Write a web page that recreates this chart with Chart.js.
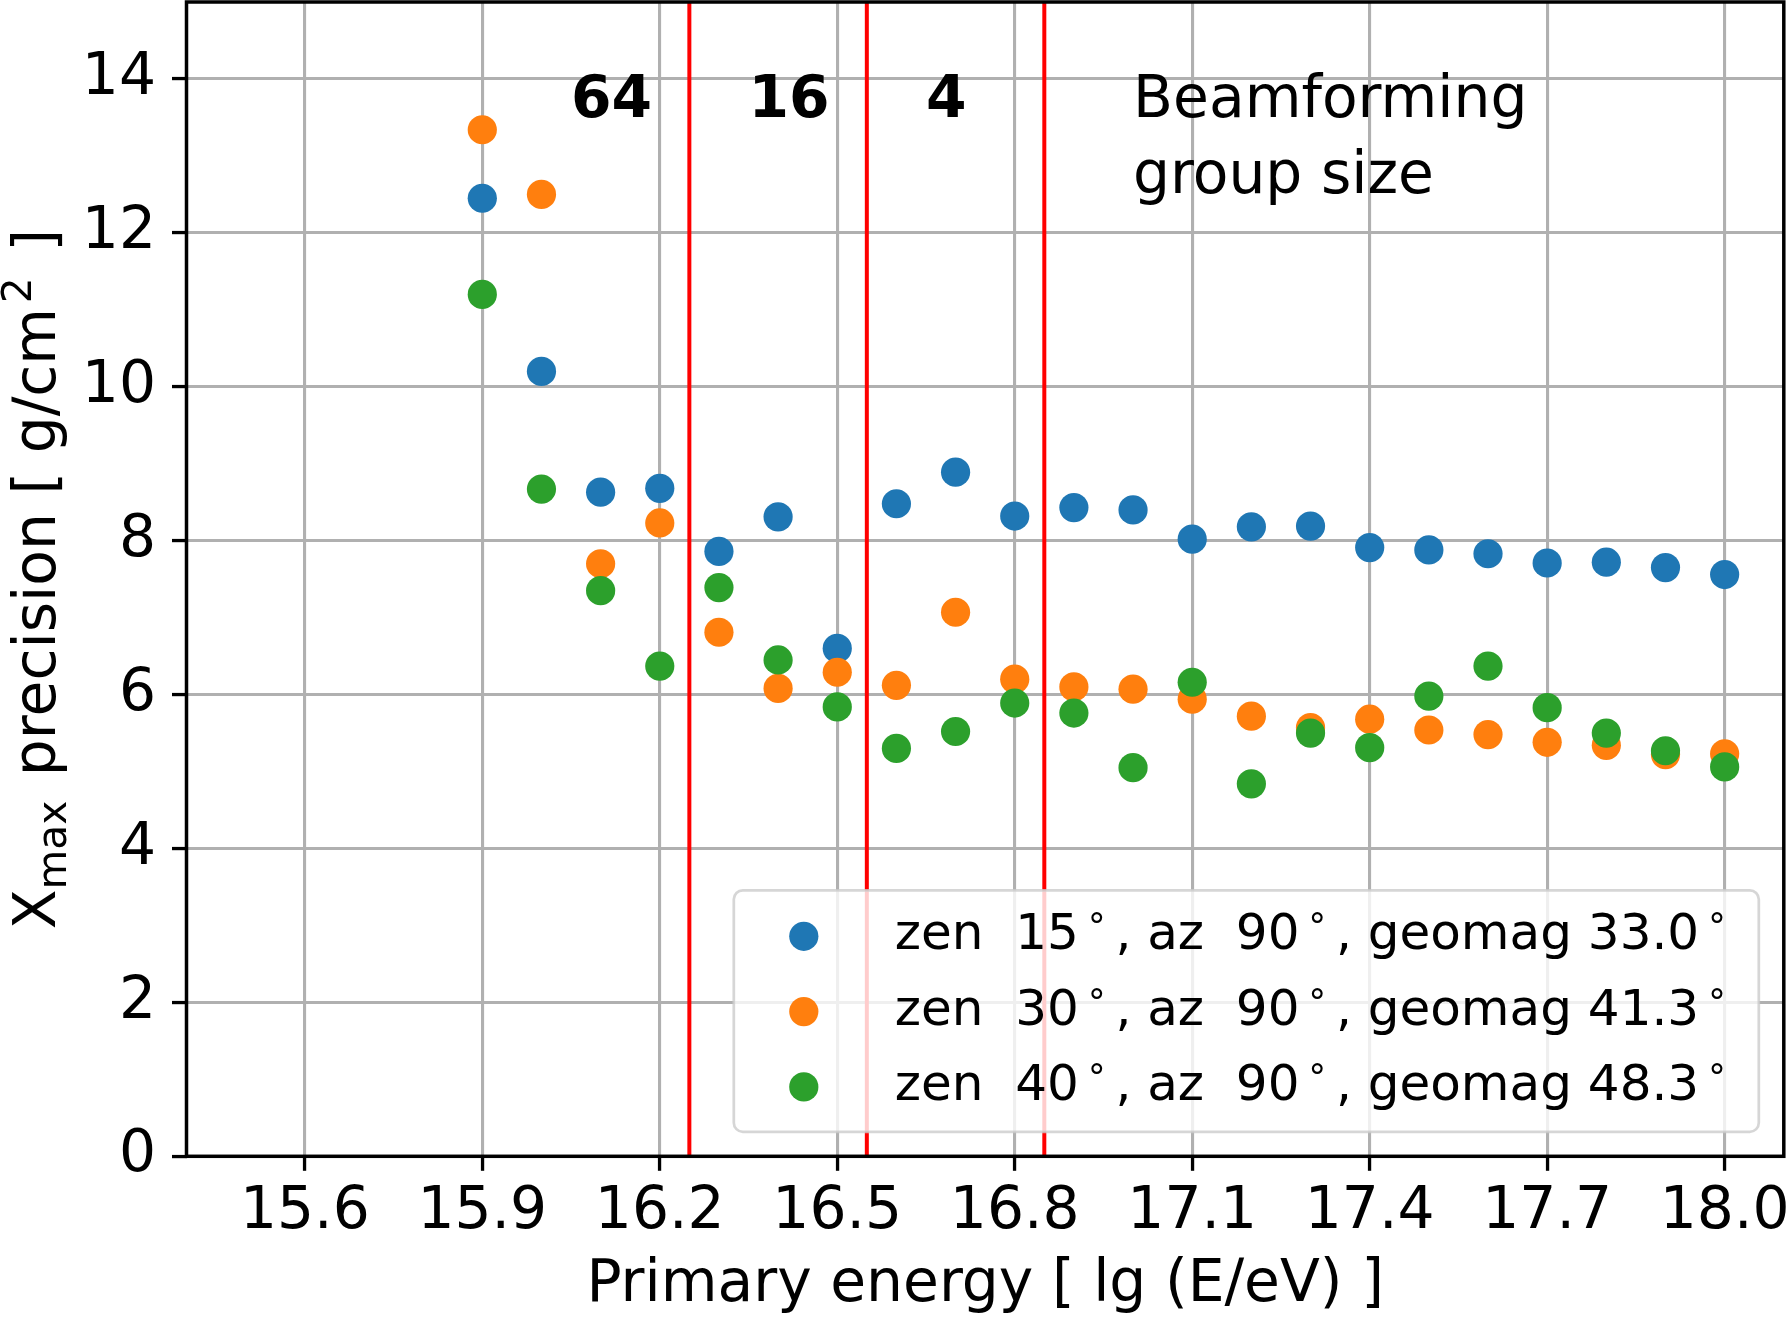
<!DOCTYPE html>
<html><head><meta charset="utf-8">
<script src="https://cdn.jsdelivr.net/npm/chart.js@4.4.1/dist/chart.umd.min.js"></script>
<style>html,body{margin:0;padding:0;background:#fff}#wrap{width:1787px;height:1317px;position:relative}</style>
</head><body><div id="wrap"><canvas id="c"></canvas></div>
<script>
// ---- data ----
const energies = [15.9,16.0,16.1,16.2,16.3,16.4,16.5,16.6,16.7,16.8,16.9,17.0,17.1,17.2,17.3,17.4,17.5,17.6,17.7,17.8,17.9,18.0];
const zen15 = [12.45,10.20,8.63,8.68,7.86,8.31,6.60,8.48,8.89,8.32,8.43,8.40,8.02,8.18,8.19,7.91,7.88,7.83,7.71,7.72,7.65,7.56];
const zen30 = [13.34,12.50,7.70,8.23,6.81,6.08,6.29,6.12,7.07,6.20,6.10,6.07,5.94,5.72,5.57,5.68,5.54,5.48,5.38,5.34,5.22,5.23];
const zen40 = [11.20,8.67,7.35,6.37,7.39,6.45,5.84,5.30,5.52,5.89,5.76,5.05,6.16,4.84,5.50,5.31,5.98,6.37,5.83,5.50,5.27,5.06];
const seriesLabels = ['zen  15°, az  90°, geomag 33.0°','zen  30°, az  90°, geomag 41.3°','zen  40°, az  90°, geomag 48.3°'];
const xTickValues = [15.6,15.9,16.2,16.5,16.8,17.1,17.4,17.7,18.0];
const yTickValues = [0,2,4,6,8,10,12,14];
const groupBoundaries = [16.25,16.55,16.85];
const groupSizes = ['64','16','4'];
const groupLabelX = [16.05,16.35,16.65];
const groupLabelY = 13.5;
const noteLines = ['Beamforming','group size'];
const noteX = 17.0;
const xTitle = 'Primary energy [ lg (E/eV) ]';

// ---- styles ----
const FONT = "'DejaVu Sans'";
const FS = 58.3;
const colors = ['#1f77b4','#ff7f0e','#2ca02c'];
const W = 1787, H = 1317;

function pts(ys){ return energies.map((x,i)=>({x:x,y:ys[i]})); }

function drawRich(ctx, parts, base, x, y, align){
  let total = 0;
  const m = parts.map(p=>{
    ctx.font = (p.w||'') + ' ' + (base*(p.s||1)) + 'px ' + FONT;
    const w = ctx.measureText(p.t).width + (p.pre||0)*base + (p.post||0)*base;
    total += w; return w;
  });
  let cx = align==='center' ? x - total/2 : x;
  parts.forEach((p,i)=>{
    ctx.font = (p.w||'') + ' ' + (base*(p.s||1)) + 'px ' + FONT;
    ctx.fillText(p.t, cx + (p.pre||0)*base, y + (p.dy||0)*base);
    cx += m[i];
  });
}

function labelParts(lbl){
  const segs = lbl.split('°');
  const parts = [];
  segs.forEach((s,i)=>{
    if (s.length) parts.push({t:s});
    if (i < segs.length-1) parts.push({t:'°', s:0.7, dy:-0.22, pre:0.18, post:0.2});
  });
  return parts;
}

const overlay = {
  id:'overlay',
  afterDraw(chart){
    const ctx = chart.ctx, ca = chart.chartArea;
    const xs = chart.scales.x, ys = chart.scales.y;
    ctx.save();
    // red group boundaries
    ctx.strokeStyle = '#ff0000'; ctx.lineWidth = 4;
    groupBoundaries.forEach(v=>{
      const px = xs.getPixelForValue(v);
      ctx.beginPath(); ctx.moveTo(px, ys.getPixelForValue(0)); ctx.lineTo(px, ys.getPixelForValue(15)); ctx.stroke();
    });
    // spines
    ctx.strokeStyle = '#000'; ctx.lineWidth = 3.5;
    ctx.strokeRect(ca.left, ca.top, ca.right-ca.left, ca.bottom-ca.top);
    // group size annotations
    ctx.fillStyle = '#000'; ctx.textBaseline = 'alphabetic'; ctx.textAlign = 'left';
    ctx.font = 'bold ' + FS + 'px ' + FONT;
    groupSizes.forEach((t,i)=>{
      ctx.fillText(t, xs.getPixelForValue(groupLabelX[i]), ys.getPixelForValue(groupLabelY));
    });
    ctx.font = FS + 'px ' + FONT;
    noteLines.forEach((t,i)=>{
      ctx.fillText(t, xs.getPixelForValue(noteX), ys.getPixelForValue(groupLabelY) + i*76);
    });
    // legend
    const lw = 1025, lh = 241.5;
    const lx = ca.right - 25 - lw, ly = ca.bottom - 24.5 - lh;
    ctx.beginPath();
    ctx.roundRect(lx, ly, lw, lh, 9);
    ctx.fillStyle = 'rgba(255,255,255,0.8)'; ctx.fill();
    ctx.strokeStyle = 'rgba(204,204,204,0.8)'; ctx.lineWidth = 2.7; ctx.stroke();
    chart.data.datasets.forEach((ds,i)=>{
      const cy = ly + 46 + i*75.3;
      ctx.beginPath(); ctx.arc(lx + 70, cy, 14.6, 0, Math.PI*2);
      ctx.fillStyle = ds.backgroundColor; ctx.fill();
      ctx.fillStyle = '#000';
      drawRich(ctx, labelParts(ds.label), 50, lx + 161, cy + 13, 'left');
    });
    // x title
    ctx.fillStyle = '#000';
    ctx.font = FS + 'px ' + FONT; ctx.textAlign = 'center';
    ctx.fillText(xTitle, (ca.left+ca.right)/2, 1301);
    // y title
    ctx.textAlign = 'left';
    ctx.translate(54.5, (ca.top+ca.bottom)/2);
    ctx.rotate(-Math.PI/2);
    drawRich(ctx, [{t:'X'},{t:'max',s:0.7,dy:0.2,post:0.1},{t:' precision [ g/cm'},{t:'2',s:0.7,dy:-0.4,pre:0.08,post:0.12},{t:' ]'}], FS, 0, 0, 'center');
    ctx.restore();
  }
};

new Chart(document.getElementById('c'), {
  type:'scatter',
  data:{ datasets:[
    {label:seriesLabels[0], data:pts(zen15), backgroundColor:colors[0], order:3},
    {label:seriesLabels[1], data:pts(zen30), backgroundColor:colors[1], order:2},
    {label:seriesLabels[2], data:pts(zen40), backgroundColor:colors[2], order:1}
  ]},
  options:{
    responsive:true, maintainAspectRatio:false, devicePixelRatio:1, animation:false, events:[],
    elements:{point:{radius:14.6, borderWidth:0, hoverRadius:14.6}},
    layout:{autoPadding:false, padding:{top:2,right:3.2,left:0,bottom:0}},
    plugins:{legend:{display:false}, tooltip:{enabled:false}},
    scales:{
      x:{type:'linear', min:15.4, max:18.1, z:1,
        afterBuildTicks(s){ s.ticks = xTickValues.map(v=>({value:v})); },
        afterFit(s){ s.height = H - 1156.3; s.paddingLeft = 0; s.paddingRight = 0; },
        ticks:{callback:v=>v.toFixed(1), color:'#000', font:{family:'DejaVu Sans', size:FS}, padding:7.5, maxRotation:0, autoSkip:false},
        grid:{color:'#b0b0b0', lineWidth:3.1, tickColor:'#000', tickLength:14.5, tickWidth:3.3},
        border:{display:false}
      },
      y:{type:'linear', min:0, max:15, z:1,
        afterBuildTicks(s){ s.ticks = yTickValues.map(v=>({value:v})); },
        afterFit(s){ s.width = 186.5; s.paddingTop = 0; s.paddingBottom = 0; },
        ticks:{callback:v=>String(v), color:'#000', font:{family:'DejaVu Sans', size:FS}, padding:16, autoSkip:false},
        grid:{color:'#b0b0b0', lineWidth:3.1, tickColor:'#000', tickLength:14.5, tickWidth:3.3},
        border:{display:false}
      }
    }
  },
  plugins:[overlay]
});
</script></body></html>
